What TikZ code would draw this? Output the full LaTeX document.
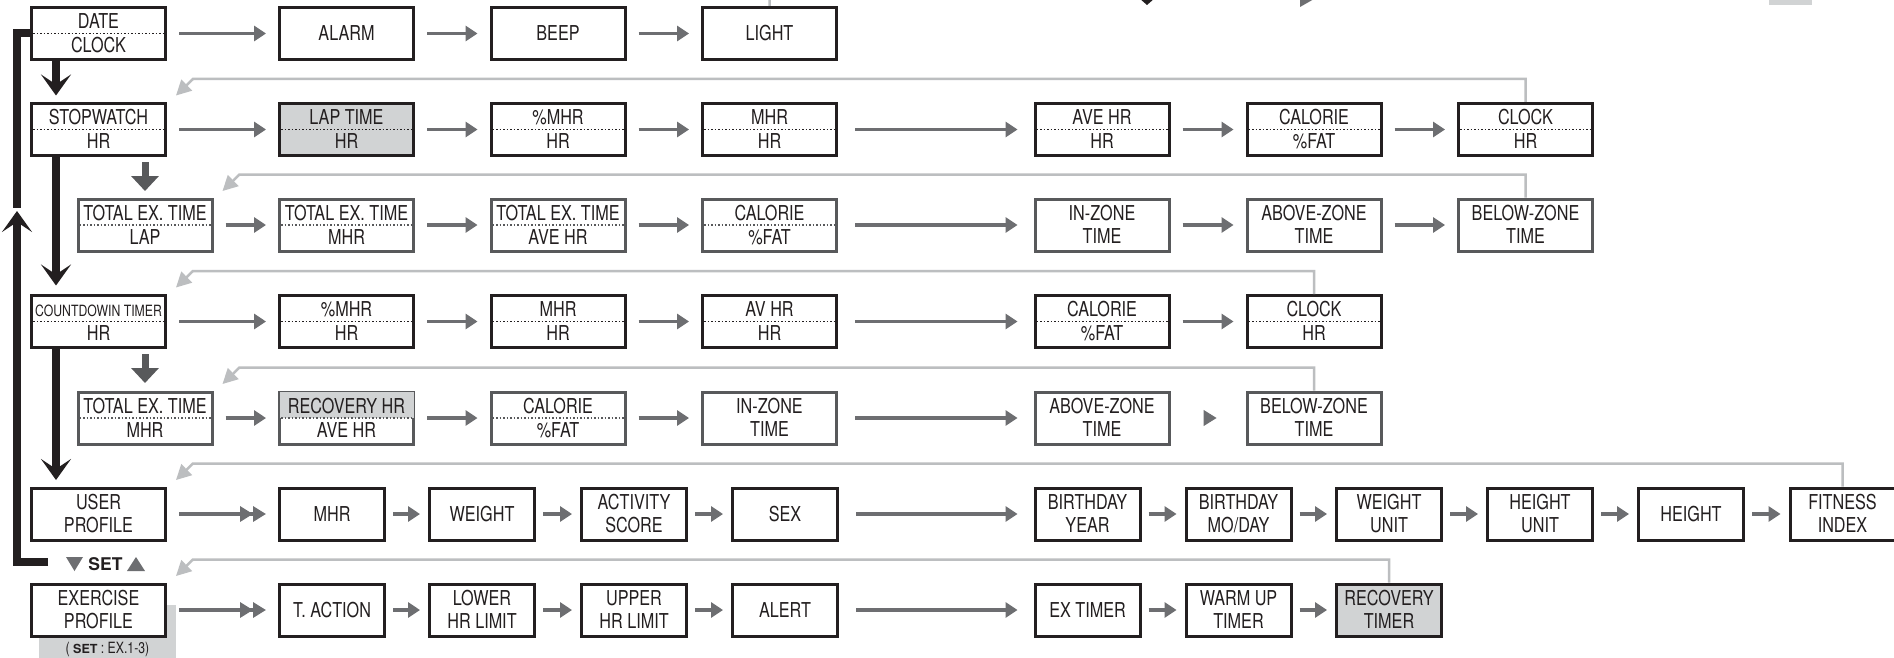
\documentclass[tikz,border=0pt]{standalone}
\usepackage{fontspec}
\setmainfont{TeX Gyre Heros}[FakeStretch=0.79]
\newfontfamily\plainheros{TeX Gyre Heros}
\usetikzlibrary{arrows.meta,calc}
\definecolor{ink}{HTML}{231F20}
\definecolor{dgray}{HTML}{58595B}
\definecolor{agray}{HTML}{6D6E71}
\definecolor{lgray}{HTML}{BCBEC0}
\definecolor{fgray}{HTML}{D1D3D4}
\tikzset{
  bx/.style={draw=ink, fill=white, line width=3pt, inner sep=0pt, minimum height=52pt, minimum width=134pt},
  bxn/.style={bx, minimum width=105pt},
  bxg/.style={bx, draw=dgray},
  lbl/.style={font=\fontsize{20.5}{22}\selectfont, text=ink, inner sep=0pt, anchor=base},
  dotl/.style={line width=1.3pt, dash pattern=on 1.6pt off 1.9pt},
  ga/.style={draw=agray, line width=3.5pt, -{Triangle[length=12pt,width=15pt]}, shorten <=12pt, shorten >=12pt},
  galong/.style={ga, shorten <=17pt, shorten >=16pt},
  gashort/.style={ga, shorten <=7pt, shorten >=8pt},
  gatip/.style={draw=agray, line width=1pt, -{Triangle[length=13pt,width=16pt]}, shorten <=34pt, shorten >=29pt},
  gadouble/.style={draw=agray, line width=3.5pt, -{Triangle[length=13pt,width=15pt]Triangle[length=13pt,width=15pt]}, shorten <=12pt, shorten >=12pt},
  lp/.style={draw=lgray, line width=2.5pt, -{Triangle[length=15pt,width=15pt]}},
  blk/.style={draw=ink, line width=8pt, line join=miter},
  blkarr/.style={blk, -{Stealth[length=21pt,width=30pt,inset=10pt]}},
  darr/.style={draw=dgray, line width=7pt, -{Triangle[length=15pt,width=27pt]}},
}
\newcommand\splitbox[7]{%
  \node[#1] (#3) at (#4,#5) {};
  \draw[dotl,draw=#2] ([xshift=3pt]#3.west) -- ([xshift=-3pt]#3.east);
  \node[lbl] (#3t) at ([yshift=4.6pt]#3.center) {#6};
  \node[lbl] (#3b) at ([yshift=-19.4pt]#3.center) {#7};}
\newcommand\twobox[6]{%
  \node[#1] (#2) at (#3,#4) {};
  \node[lbl] (#2t) at ([yshift=4.1pt]#2.center) {#5};
  \node[lbl] (#2b) at ([yshift=-18.9pt]#2.center) {#6};}
\newcommand\onebox[5]{%
  \node[#1] (#2) at (#3,#4) {};
  \node[lbl] (#2t) at ([yshift=-7.4pt]#2.center) {#5};}
\newcommand\loopback[2]{%
  \draw[lp] (#1.north) |- ([shift={(26,23)}]#2.north east) -- ([shift={(9,6.5)}]#2.north east);}
\begin{document}
\begin{tikzpicture}[x=1pt,y=1pt]
\useasboundingbox (0,0) rectangle (1894,-658);
\clip (0,0) rectangle (1894,-658);
\fill[white] (0,0) rectangle (1894,-658);

% fragments of the legend above
\fill[ink] (1139,2) -- (1155,2) -- (1147,-5) -- cycle;
\fill[agray] (1300,10) -- (1314,1) -- (1300,-7) -- cycle;
\fill[fgray] (1769,1) rectangle (1812,-5);

% note behind exercise profile
\fill[fgray] (39,-605) rectangle (176,-660);
\node[font=\fontsize{15.5}{17}\selectfont, text=ink, inner sep=0pt, anchor=base] (exnote) at (107.5,-653.5) {( {\plainheros\bfseries\fontsize{12.5}{14}\selectfont SET} : EX.1-3)};

% Row 1
\splitbox{bx}{ink}{date}{98.5}{-33.5}{DATE}{CLOCK}
\onebox{bx}{alarm}{346.5}{-33.5}{ALARM}
\onebox{bx}{beep}{558}{-33.5}{BEEP}
\onebox{bx}{light}{769.5}{-33.5}{LIGHT}

% Row 2
\splitbox{bx}{ink}{sw}{98.5}{-129.5}{STOPWATCH}{HR}
\splitbox{bx,fill=fgray}{ink}{lap}{346.5}{-129.5}{LAP TIME}{HR}
\splitbox{bx}{ink}{pm2}{558}{-129.5}{\%MHR}{HR}
\splitbox{bx}{ink}{m2}{769.5}{-129.5}{MHR}{HR}
\splitbox{bx}{ink}{av2}{1102}{-129.5}{AVE HR}{HR}
\splitbox{bx}{ink}{cf2}{1314}{-129.5}{CALORIE}{\%FAT}
\splitbox{bx}{ink}{ck2}{1525.5}{-129.5}{CLOCK}{HR}

% Row 3
\splitbox{bxg}{dgray}{tl}{145}{-225}{TOTAL EX. TIME}{LAP}
\splitbox{bxg}{dgray}{tm}{346.5}{-225}{TOTAL EX. TIME}{MHR}
\splitbox{bxg}{dgray}{ta}{558}{-225}{TOTAL EX. TIME}{AVE HR}
\splitbox{bxg}{dgray}{cf3}{769.5}{-225}{CALORIE}{\%FAT}
\twobox{bxg}{iz3}{1102}{-225}{IN-ZONE}{TIME}
\twobox{bxg}{az3}{1314}{-225}{ABOVE-ZONE}{TIME}
\twobox{bxg}{bz3}{1525.5}{-225}{BELOW-ZONE}{TIME}

% Row 4
\splitbox{bx}{ink}{cd}{98.5}{-321.5}{\fontsize{15.5}{16}\selectfont COUNTDOWIN TIMER}{HR}
\splitbox{bx}{ink}{pm4}{346.5}{-321.5}{\%MHR}{HR}
\splitbox{bx}{ink}{m4}{558}{-321.5}{MHR}{HR}
\splitbox{bx}{ink}{av4}{769.5}{-321.5}{AV HR}{HR}
\splitbox{bx}{ink}{cf4}{1102}{-321.5}{CALORIE}{\%FAT}
\splitbox{bx}{ink}{ck4}{1314}{-321.5}{CLOCK}{HR}

% Row 5
\splitbox{bxg}{dgray}{tm5}{145}{-418}{TOTAL EX. TIME}{MHR}
\node[bxg] (rh) at (346.5,-418) {};
\fill[fgray] ([shift={(1.5pt,-1.5pt)}]rh.north west) rectangle ([xshift=-1.5pt]rh.east);
\draw[dotl,draw=dgray] ([xshift=3pt]rh.west) -- ([xshift=-3pt]rh.east);
\node[lbl] (rht) at ([yshift=4.6pt]rh.center) {RECOVERY HR};
\node[lbl] (rhb) at ([yshift=-19.4pt]rh.center) {AVE HR};
\splitbox{bxg}{dgray}{cf5}{558}{-418}{CALORIE}{\%FAT}
\twobox{bxg}{iz5}{769.5}{-418}{IN-ZONE}{TIME}
\twobox{bxg}{az5}{1102}{-418}{ABOVE-ZONE}{TIME}
\twobox{bxg}{bz5}{1314}{-418}{BELOW-ZONE}{TIME}

% Row 6
\twobox{bx}{user}{98.5}{-514}{USER}{PROFILE}
\onebox{bxn}{mhr6}{332}{-514}{MHR}
\onebox{bxn}{wt}{482}{-514}{WEIGHT}
\twobox{bxn}{act}{634}{-514}{ACTIVITY}{SCORE}
\onebox{bxn}{sex}{785}{-514}{SEX}
\twobox{bxn}{by}{1087.5}{-514}{BIRTHDAY}{YEAR}
\twobox{bxn}{bmd}{1238.5}{-514}{BIRTHDAY}{MO/DAY}
\twobox{bxn}{wu}{1389}{-514}{WEIGHT}{UNIT}
\twobox{bxn}{hu}{1540}{-514}{HEIGHT}{UNIT}
\onebox{bxn}{ht}{1691}{-514}{HEIGHT}
\twobox{bxn}{fit}{1842.5}{-514}{FITNESS}{INDEX}

% Row 7
\twobox{bx}{ex}{98.5}{-610}{EXERCISE}{PROFILE}
\onebox{bxn}{tac}{332}{-610}{T. ACTION}
\twobox{bxn}{lo}{482}{-610}{LOWER}{HR LIMIT}
\twobox{bxn}{up}{634}{-610}{UPPER}{HR LIMIT}
\onebox{bxn}{al}{785}{-610}{ALERT}
\onebox{bxn}{et}{1087.5}{-610}{EX TIMER}
\twobox{bxn}{wm}{1238.5}{-610}{WARM UP}{TIMER}
\twobox{bxn,fill=fgray}{rt}{1389}{-610}{RECOVERY}{TIMER}

% horizontal arrows
\draw[ga] (date.east) -- (alarm.west);
\draw[ga] (alarm.east) -- (beep.west);
\draw[ga] (beep.east) -- (light.west);

\draw[ga] (sw.east) -- (lap.west);
\draw[ga] (lap.east) -- (pm2.west);
\draw[ga] (pm2.east) -- (m2.west);
\draw[galong] (m2.east) -- (av2.west);
\draw[ga] (av2.east) -- (cf2.west);
\draw[ga] (cf2.east) -- (ck2.west);

\draw[ga] (tl.east) -- (tm.west);
\draw[ga] (tm.east) -- (ta.west);
\draw[ga] (ta.east) -- (cf3.west);
\draw[galong] (cf3.east) -- (iz3.west);
\draw[ga] (iz3.east) -- (az3.west);
\draw[ga] (az3.east) -- (bz3.west);

\draw[ga] (cd.east) -- (pm4.west);
\draw[ga] (pm4.east) -- (m4.west);
\draw[ga] (m4.east) -- (av4.west);
\draw[galong] (av4.east) -- (cf4.west);
\draw[ga] (cf4.east) -- (ck4.west);

\draw[ga] (tm5.east) -- (rh.west);
\draw[ga] (rh.east) -- (cf5.west);
\draw[ga] (cf5.east) -- (iz5.west);
\draw[galong] (iz5.east) -- (az5.west);
\draw[gatip] (az5.east) -- (bz5.west);

\draw[gadouble] (user.east) -- (mhr6.west);
\draw[gashort] (mhr6.east) -- (wt.west);
\draw[gashort] (wt.east) -- (act.west);
\draw[gashort] (act.east) -- (sex.west);
\draw[galong] (sex.east) -- (by.west);
\draw[gashort] (by.east) -- (bmd.west);
\draw[gashort] (bmd.east) -- (wu.west);
\draw[gashort] (wu.east) -- (hu.west);
\draw[gashort] (hu.east) -- (ht.west);
\draw[gashort] (ht.east) -- (fit.west);

\draw[gadouble] (ex.east) -- (tac.west);
\draw[gashort] (tac.east) -- (lo.west);
\draw[gashort] (lo.east) -- (up.west);
\draw[gashort] (up.east) -- (al.west);
\draw[galong] (al.east) -- (et.west);
\draw[gashort] (et.east) -- (wm.west);
\draw[gashort] (wm.east) -- (rt.west);

% loop-back lines
\loopback{light}{date}
\loopback{ck2}{sw}
\loopback{bz3}{tl}
\loopback{ck4}{cd}
\loopback{bz5}{tm5}
\loopback{fit}{user}
\loopback{rt}{ex}

% dark grey down arrows
\draw[darr] ([yshift=-5pt]sw.south -| tl.north) -- ([yshift=6.5pt]tl.north);
\draw[darr] ([yshift=-5pt]cd.south -| tm5.north) -- ([yshift=7.5pt]tm5.north);

% black main connectors
\draw[blkarr] ([xshift=-42.5pt]date.south) -- ([xshift=-42.5pt,yshift=6.5pt]sw.north);
\draw[blkarr] ([xshift=-42.5pt]sw.south) -- ([xshift=-42.5pt,yshift=8.5pt]cd.north);
\draw[blkarr] ([xshift=-42.5pt]cd.south) -- ([xshift=-42.5pt,yshift=6.5pt]user.north);

\coordinate (upend) at (17,-208);
\coordinate (uptip) at (17,-211);
\coordinate (setend) at (48,-562);
\draw[blk] (date.west) -| (upend);
\draw[blkarr] (setend) -| (uptip);

% SET label
\fill[agray] (66,-557) -- (83,-557) -- (74.5,-571) -- cycle;
\fill[agray] (127,-571) -- (145,-571) -- (136,-557) -- cycle;
\node[font=\plainheros\bfseries\fontsize{17.5}{19}\selectfont, text=ink, inner sep=0pt, anchor=base] (setlbl) at (105.5,-570.5) {SET};
\end{tikzpicture}
\end{document}
